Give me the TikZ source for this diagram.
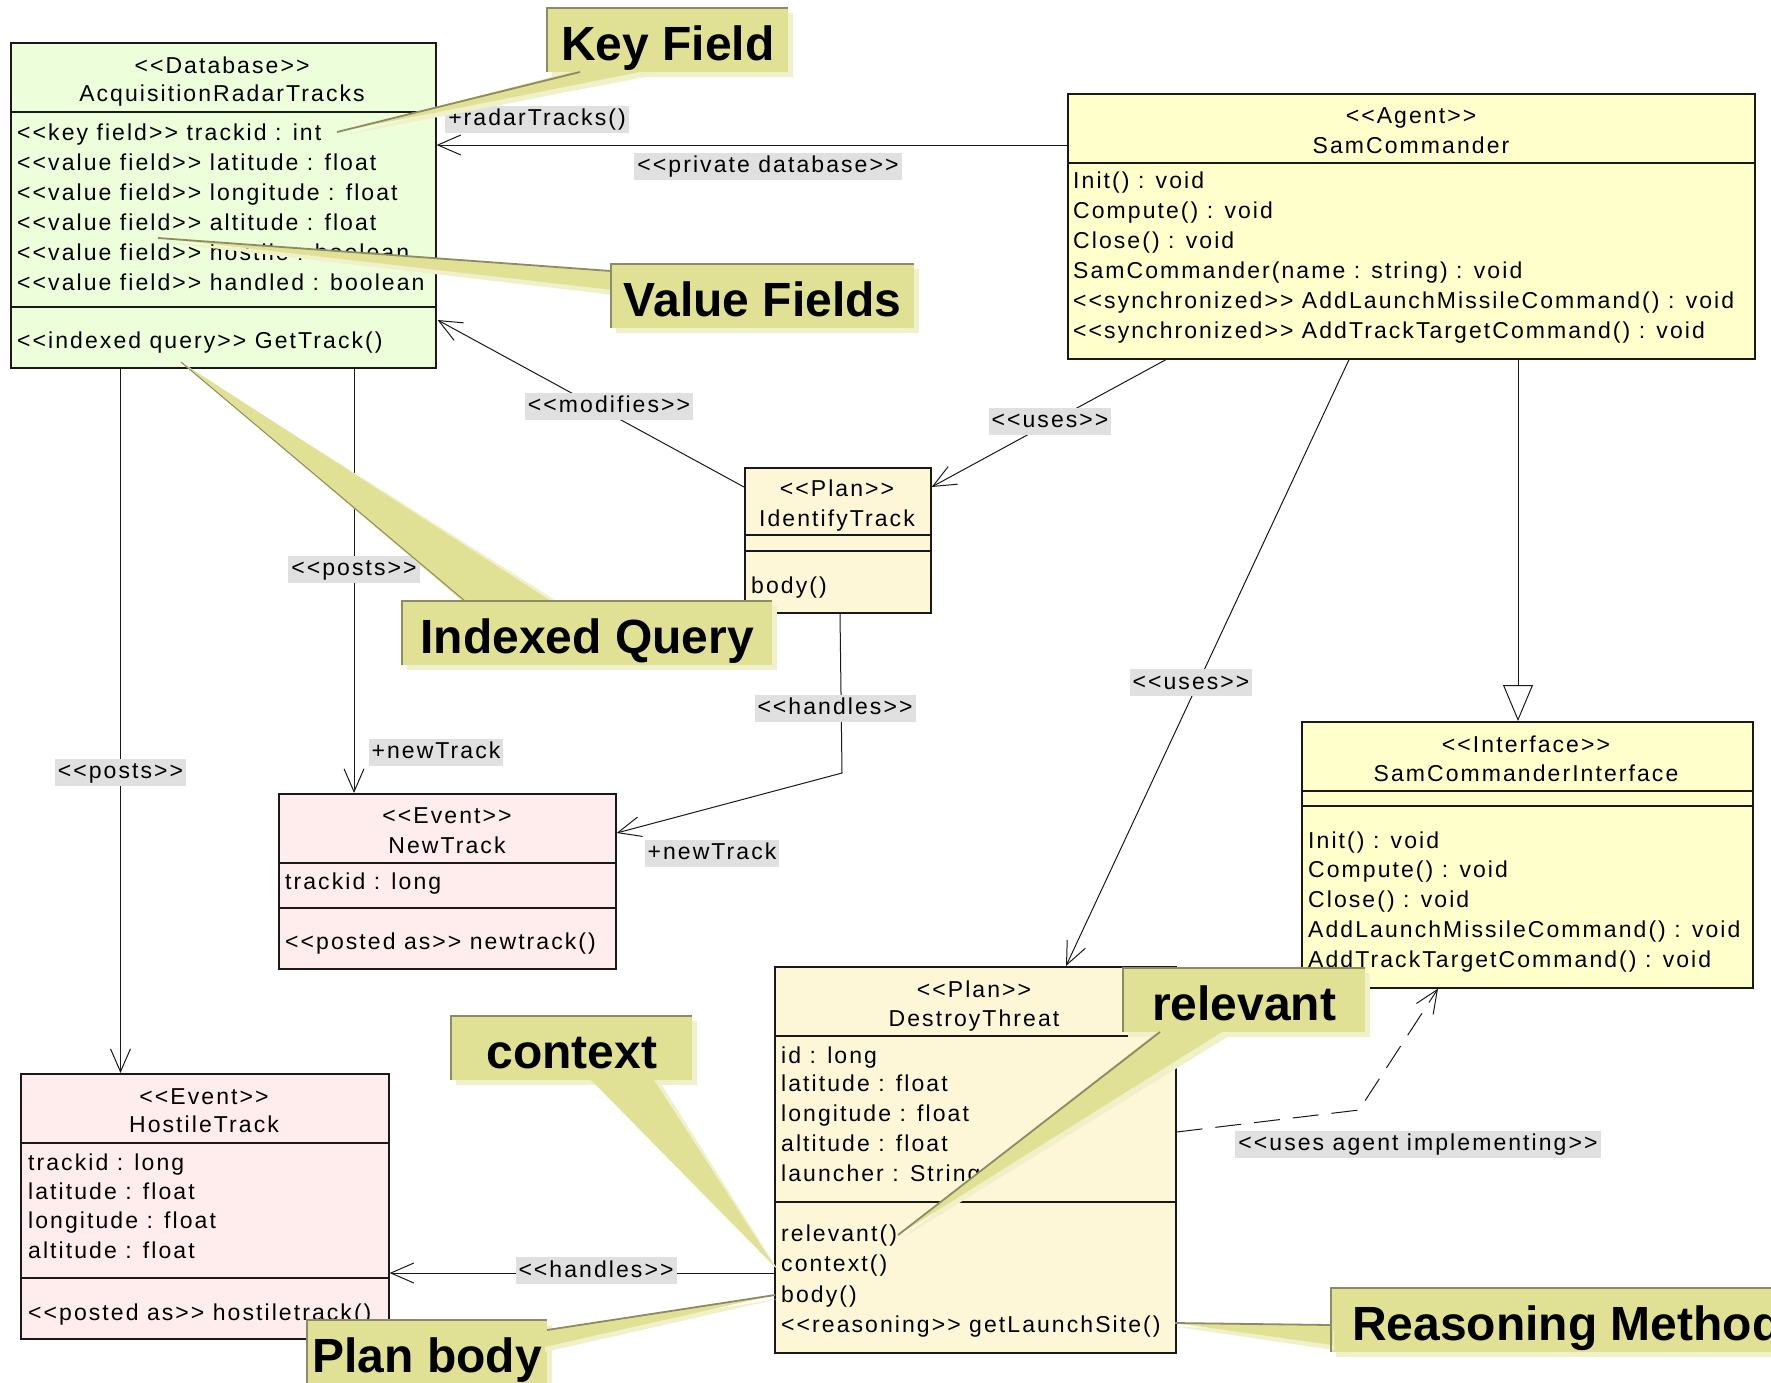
\documentclass[tikz,border=0pt]{standalone}
\usepackage{fontspec}
\usetikzlibrary{arrows.meta,calc,shadows}

\newfontfamily\umlfamily{Liberation Sans}[LetterSpace=9]
\newfontfamily\notefamily{Liberation Sans}
\newcommand\umlf{\umlfamily\fontsize{23}{28}\selectfont}
\newcommand\notef{\notefamily\bfseries\fontsize{48}{56}\selectfont}

\definecolor{dbgreen}{RGB}{236,255,218}
\definecolor{agentyellow}{RGB}{255,255,204}
\definecolor{plancream}{RGB}{253,247,216}
\definecolor{eventpink}{RGB}{255,236,236}
\definecolor{labelgray}{RGB}{224,224,224}
\definecolor{notefill}{RGB}{225,225,150}
\definecolor{noteedge}{RGB}{140,140,100}
\definecolor{noteshade}{RGB}{240,240,202}
\definecolor{ink}{RGB}{25,25,25}

\tikzset{
  umlbox/.style={draw=ink, line width=1.6pt, inner sep=0pt, anchor=north west},
  divider/.style={draw=ink, line width=1.3pt},
  txt/.style={font=\umlf, inner sep=0pt, anchor=base west, text=black},
  ctxt/.style={font=\umlf, inner sep=0pt, anchor=base, text=black},
  lbl/.style={font=\umlf, fill=labelgray, inner xsep=3pt, inner ysep=2pt,
              text height=18pt, text depth=5pt},
  conn/.style={draw=ink, line width=1pt},
  >={Straight Barb[length=23pt, width=20pt]},
  gentip/.tip={Triangle[open, fill=white, length=36pt, width=30pt]},
  note/.style={font=\notef, fill=notefill, anchor=north west, inner ysep=0pt,
               text height=52pt, text depth=12pt,
               general shadow={fill=noteshade, shadow xshift=5pt, shadow yshift=-5pt}},
  noteedgeline/.style={draw=noteedge, line width=2pt},
  wedgeshade/.style={fill=noteshade},
  wedgefill/.style={fill=notefill},
  wedgeedge/.style={draw=noteedge, line width=1.8pt}
}

\begin{document}
\begin{tikzpicture}[x=1pt, y=-1pt]
\useasboundingbox (0,0) rectangle (1771,1382);
\clip (0,0) rectangle (1771,1382);
\fill[white] (0,0) rectangle (1771,1382);

% ---------- classes ----------
% AcquisitionRadarTracks
\node[umlbox, fill=dbgreen, minimum width=425pt, minimum height=325pt] (db) at (10,42) {};
\draw[divider] ($(db.north west)+(0,70)$) -- ($(db.north east)+(0,70)$);
\draw[divider] ($(db.north west)+(0,265)$) -- ($(db.north east)+(0,265)$);
\node[ctxt] (db-st) at (222,73) {<<Database>>};
\node[ctxt] (db-nm) at (222,101) {AcquisitionRadarTracks};
\node[txt] (db-f1) at (17,140) {<<key field>> trackid : int};
\node[txt] (db-f2) at (17,170) {<<value field>> latitude : float};
\node[txt] (db-f3) at (17,200) {<<value field>> longitude : float};
\node[txt] (db-f4) at (17,230) {<<value field>> altitude : float};
\node[txt] (db-f5) at (17,260) {<<value field>> hostile : boolean};
\node[txt] (db-f6) at (17,290) {<<value field>> handled : boolean};
\node[txt] (db-m1) at (17,348) {<<indexed query>> GetTrack()};

% SamCommander
\node[umlbox, fill=agentyellow, minimum width=687pt, minimum height=265pt] (sam) at (1067,93) {};
\draw[divider] ($(sam.north west)+(0,70)$) -- ($(sam.north east)+(0,70)$);
\node[ctxt] (sam-st) at (1411,123) {<<Agent>>};
\node[ctxt] (sam-nm) at (1411,153) {SamCommander};
\node[txt] (sam-m1) at (1073,188) {Init() : void};
\node[txt] (sam-m2) at (1073,218) {Compute() : void};
\node[txt] (sam-m3) at (1073,248) {Close() : void};
\node[txt] (sam-m4) at (1073,278) {SamCommander(name : string) : void};
\node[txt] (sam-m5) at (1073,308) {<<synchronized>> AddLaunchMissileCommand() : void};
\node[txt] (sam-m6) at (1073,338) {<<synchronized>> AddTrackTargetCommand() : void};

% IdentifyTrack
\node[umlbox, fill=plancream, minimum width=186pt, minimum height=145pt] (identify) at (744,467) {};
\draw[divider] ($(identify.north west)+(0,68)$) -- ($(identify.north east)+(0,68)$);
\draw[divider] ($(identify.north west)+(0,84)$) -- ($(identify.north east)+(0,84)$);
\node[ctxt] (id-st) at (837,496) {<<Plan>>};
\node[ctxt] (id-nm) at (837,526) {IdentifyTrack};
\node[txt] (id-m1) at (751,593) {body()};

% NewTrack
\node[umlbox, fill=eventpink, minimum width=337pt, minimum height=175pt] (newtrack) at (278,793) {};
\draw[divider] ($(newtrack.north west)+(0,70)$) -- ($(newtrack.north east)+(0,70)$);
\draw[divider] ($(newtrack.north west)+(0,115)$) -- ($(newtrack.north east)+(0,115)$);
\node[ctxt] (nt-st) at (447,823) {<<Event>>};
\node[ctxt] (nt-nm) at (447,853) {NewTrack};
\node[txt] (nt-f1) at (285,889) {trackid : long};
\node[txt] (nt-m1) at (285,949) {<<posted as>> newtrack()};

% SamCommanderInterface
\node[umlbox, fill=agentyellow, minimum width=451pt, minimum height=266pt] (iface) at (1301,721) {};
\draw[divider] ($(iface.north west)+(0,70)$) -- ($(iface.north east)+(0,70)$);
\draw[divider] ($(iface.north west)+(0,85)$) -- ($(iface.north east)+(0,85)$);
\node[ctxt] (if-st) at (1526,752) {<<Interface>>};
\node[ctxt] (if-nm) at (1526,781) {SamCommanderInterface};
\node[txt] (if-m1) at (1308,848) {Init() : void};
\node[txt] (if-m2) at (1308,877) {Compute() : void};
\node[txt] (if-m3) at (1308,907) {Close() : void};
\node[txt] (if-m4) at (1308,937) {AddLaunchMissileCommand() : void};
\node[txt] (if-m5) at (1308,967) {AddTrackTargetCommand() : void};

% DestroyThreat
\node[umlbox, fill=plancream, minimum width=401pt, minimum height=386pt] (destroy) at (774,966) {};
\draw[divider] ($(destroy.north west)+(0,70)$) -- ($(destroy.north east)+(0,70)$);
\draw[divider] ($(destroy.north west)+(0,236)$) -- ($(destroy.north east)+(0,236)$);
\node[ctxt] (dt-st) at (974,997) {<<Plan>>};
\node[ctxt] (dt-nm) at (974,1026) {DestroyThreat};
\node[txt] (dt-f1) at (781,1063) {id : long};
\node[txt] (dt-f2) at (781,1091) {latitude : float};
\node[txt] (dt-f3) at (781,1121) {longitude : float};
\node[txt] (dt-f4) at (781,1151) {altitude : float};
\node[txt] (dt-f5) at (781,1181) {launcher : String};
\node[txt] (dt-m1) at (781,1241) {relevant()};
\node[txt] (dt-m2) at (781,1271) {context()};
\node[txt] (dt-m3) at (781,1302) {body()};
\node[txt] (dt-m4) at (781,1332) {<<reasoning>> getLaunchSite()};

% HostileTrack
\node[umlbox, fill=eventpink, minimum width=368pt, minimum height=265pt] (hostile) at (20,1073) {};
\draw[divider] ($(hostile.north west)+(0,70)$) -- ($(hostile.north east)+(0,70)$);
\draw[divider] ($(hostile.north west)+(0,205)$) -- ($(hostile.north east)+(0,205)$);
\node[ctxt] (ht-st) at (204,1104) {<<Event>>};
\node[ctxt] (ht-nm) at (204,1132) {HostileTrack};
\node[txt] (ht-f1) at (28,1170) {trackid : long};
\node[txt] (ht-f2) at (28,1199) {latitude : float};
\node[txt] (ht-f3) at (28,1228) {longitude : float};
\node[txt] (ht-f4) at (28,1258) {altitude : float};
\node[txt] (ht-m1) at (28,1320) {<<posted as>> hostiletrack()};

% ---------- connectors ----------
\coordinate (handlesbend) at (842,773);
\coordinate (implbend) at (1359,1110);

\draw[conn,->] ($(sam.north west)+(0,52)$) -- ($(db.north east)+(0,103)$);
\draw[conn,->] ($(identify.north west)+(0,20)$) -- ($(db.north east)+(1,278)$);
\draw[conn,->] ($(db.south west)+(344,0)$) -- ($(newtrack.north west)+(76,0)$);
\draw[conn,->] ($(db.south west)+(110.5,0)$) -- ($(hostile.north west)+(100.5,0)$);
\draw[conn,->] ($(identify.south west)+(96,0)$) -- (handlesbend) -- ($(newtrack.north east)+(0,40)$);
\draw[conn,->] ($(sam.south west)+(99,0)$) -- ($(identify.north east)+(0,20)$);
\draw[conn,->] ($(sam.south west)+(282,0)$) -- ($(destroy.north west)+(292,0)$);
\draw[conn,-gentip] ($(sam.south west)+(451,0)$) -- ($(iface.north west)+(217,0)$);
\draw[conn,->,dash pattern=on 26pt off 13pt] ($(destroy.north east)+(0,166)$) -- (implbend) -- ($(iface.south west)+(137,0)$);
\draw[conn,->] ($(destroy.north west)+(0,307)$) -- ($(hostile.north east)+(0,200)$);

% connector labels
\node[lbl] (l-radar) at (537,119) {+radarTracks()};
\node[lbl] (l-private) at (768,166) {<<private database>>};
\node[lbl] (l-modifies) at (609,406) {<<modifies>>};
\node[lbl] (l-posts1) at (354,569) {<<posts>>};
\node[lbl] (l-newtrack1) at (436,752) {+newTrack};
\node[lbl] (l-posts2) at (120.5,772) {<<posts>>};
\node[lbl] (l-handles1) at (835,708) {<<handles>>};
\node[lbl] (l-newtrack2) at (712,853) {+newTrack};
\node[lbl] (l-uses1) at (1050,421) {<<uses>>};
\node[lbl] (l-uses2) at (1191,682.5) {<<uses>>};
\node[lbl] (l-impl) at (1418,1144) {<<uses agent implementing>>};
\node[lbl] (l-handles2) at (596,1270.5) {<<handles>>};

% ---------- notes ----------
% Key Field
\fill[wedgeshade] (583,75) -- (655,75) -- (340,136) -- cycle;
\node[note, minimum width=241pt] (kf) at (547,8) {Key Field};
\fill[wedgefill] (580,70) -- (650,70) -- (337,132) -- cycle;
\draw[wedgeedge] (580,72) -- (337,132);
\draw[noteedgeline] (kf.south west) -- (kf.north west) -- (kf.north east);

% Value Fields
\fill[wedgeshade] (614,275) -- (614,295) -- (160,242) -- cycle;
\node[note, minimum width=303pt] (vf) at (611,264) {Value Fields};
\fill[wedgefill] (613,271) -- (613,290) -- (158,238) -- cycle;
\draw[wedgeedge] (611,271) -- (158,238);
\draw[noteedgeline] (vf.south west) -- (vf.north west) -- (vf.north east);

% Indexed Query
\fill[wedgeshade] (470,603) -- (560,603) -- (184,365) -- cycle;
\fill[wedgefill] (465,603) -- (554,603) -- (181,362) -- cycle;
\draw[wedgeedge, line width=1pt] (465,601) -- (181,362);
\node[note, minimum width=370pt] (iq) at (402,601) {Indexed Query};
\draw[noteedgeline] (iq.south west) -- (iq.north west) -- (iq.north east);

% context
\node[note, minimum width=241pt] (ctx) at (451,1016) {context};
\fill[wedgeshade] (596,1082) -- (660,1082) -- (778,1270) -- cycle;
\fill[wedgefill] (591,1080) -- (654,1080) -- (775,1267) -- cycle;
\draw[noteedgeline] (ctx.south west) -- (ctx.north west) -- (ctx.north east);

% relevant
\node[note, minimum width=242pt] (rel) at (1123,968) {relevant};
\fill[wedgeshade] (1166,1034) -- (1232,1034) -- (901,1239) -- cycle;
\fill[wedgefill] (1160,1030) -- (1225,1030) -- (898,1235) -- cycle;
\draw[wedgeedge] (1160,1032) -- (898,1235);
\draw[noteedgeline] (rel.south west) -- (rel.north west) -- (rel.north east);

% Plan body
\node[note, minimum width=240pt] (pb) at (307,1320) {Plan body};
\fill[wedgeshade] (545,1335) -- (545,1352) -- (778,1299) -- cycle;
\fill[wedgefill] (544,1330) -- (544,1347) -- (775,1295) -- cycle;
\draw[wedgeedge] (547,1330) -- (775,1295);
\draw[noteedgeline] (pb.south west) -- (pb.north west) -- (pb.north east);

% Reasoning Method
\node[note, inner xsep=21pt] (rm) at (1331,1288) {Reasoning Method};
\fill[wedgeshade] (1334,1330) -- (1334,1350) -- (1178,1327) -- cycle;
\fill[wedgefill] (1333,1325) -- (1333,1345) -- (1175,1323) -- cycle;
\draw[wedgeedge] (1331,1325) -- (1175,1323);
\draw[noteedgeline] (rm.south west) -- (rm.north west) -- (rm.north east);
\end{tikzpicture}
\end{document}
